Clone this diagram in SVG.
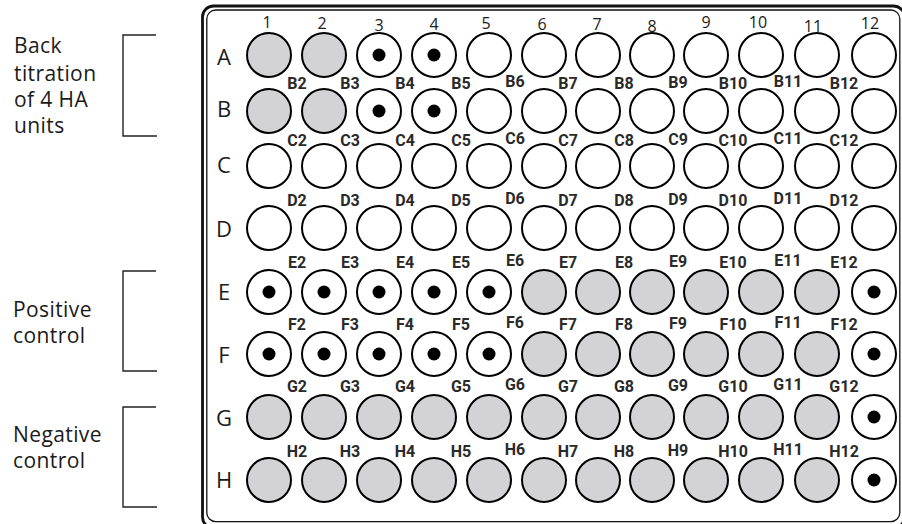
<svg xmlns="http://www.w3.org/2000/svg" width="902" height="524" viewBox="0 0 902 524">
<style>
.e{fill:#fff;stroke:#000;stroke-width:2}
.f{fill:#d3d3d5;stroke:#000;stroke-width:2}
.dot{fill:#000}
.lbl{font-family:Roboto,"Liberation Sans",sans-serif;font-weight:bold;font-size:16px;fill:#2a2a2a;text-anchor:middle}
.num{font-family:"Open Sans","Liberation Sans",sans-serif;font-size:16px;fill:#1a1a1a;text-anchor:middle}
.row{font-family:"Open Sans","Liberation Sans",sans-serif;font-size:22px;fill:#1a1a1a;text-anchor:middle}
.ann{font-family:"Open Sans","Liberation Sans",sans-serif;font-size:21px;letter-spacing:0.4px;fill:#1a1a1a}
.br{fill:none;stroke:#222;stroke-width:1.4}
</style>
<rect width="902" height="524" fill="#fff"/>
<g id="plate">
<rect x="202.5" y="6" width="702" height="522" rx="11" fill="none" stroke="#111" stroke-width="2.8"/>
<rect x="206.8" y="10" width="693" height="511.7" rx="9" fill="none" stroke="#111" stroke-width="1.3"/>
</g>
<g id="annotations">
<text class="ann" x="14" y="53">Back</text>
<text class="ann" x="14" y="81">titration</text>
<text class="ann" x="14" y="107">of 4 HA</text>
<text class="ann" x="14" y="133">units</text>
<text class="ann" x="13" y="317">Positive</text>
<text class="ann" x="13" y="343">control</text>
<text class="ann" x="13" y="442">Negative</text>
<text class="ann" x="13" y="468">control</text>
</g>
<g id="connectors">
<path class="br" d="M156,35H123V136H157"/>
<path class="br" d="M156,271H123V371H157"/>
<path class="br" d="M156,407H123V507H157"/>
</g>
<g id="column-numbers">
<text class="num" x="267" y="28">1</text>
<text class="num" x="322" y="29">2</text>
<text class="num" x="379" y="31">3</text>
<text class="num" x="434" y="30">4</text>
<text class="num" x="486" y="29">5</text>
<text class="num" x="542" y="30">6</text>
<text class="num" x="597" y="30">7</text>
<text class="num" x="652" y="32">8</text>
<text class="num" x="706" y="28">9</text>
<text class="num" x="758" y="28">10</text>
<text class="num" x="813" y="32">11</text>
<text class="num" x="870" y="29">12</text>
</g>
<g id="row-letters">
<text class="row" x="224" y="65">A</text>
<text class="row" x="224" y="117">B</text>
<text class="row" x="224" y="173">C</text>
<text class="row" x="224" y="237">D</text>
<text class="row" x="224" y="300">E</text>
<text class="row" x="224" y="363">F</text>
<text class="row" x="224" y="426">G</text>
<text class="row" x="224" y="488">H</text>
</g>
<g id="well-labels">
<text class="lbl" x="297" y="89">B2</text><text class="lbl" x="350" y="89">B3</text><text class="lbl" x="405" y="89">B4</text><text class="lbl" x="461" y="89">B5</text><text class="lbl" x="515" y="87">B6</text><text class="lbl" x="568" y="89">B7</text><text class="lbl" x="624" y="89">B8</text><text class="lbl" x="678" y="88">B9</text><text class="lbl" x="733" y="89">B10</text><text class="lbl" x="788" y="87">B11</text><text class="lbl" x="844" y="89">B12</text>
<text class="lbl" x="297" y="146">C2</text><text class="lbl" x="350" y="146">C3</text><text class="lbl" x="405" y="146">C4</text><text class="lbl" x="461" y="146">C5</text><text class="lbl" x="515" y="144">C6</text><text class="lbl" x="568" y="146">C7</text><text class="lbl" x="624" y="146">C8</text><text class="lbl" x="678" y="145">C9</text><text class="lbl" x="733" y="146">C10</text><text class="lbl" x="788" y="144">C11</text><text class="lbl" x="844" y="146">C12</text>
<text class="lbl" x="297" y="206">D2</text><text class="lbl" x="350" y="206">D3</text><text class="lbl" x="405" y="206">D4</text><text class="lbl" x="461" y="206">D5</text><text class="lbl" x="515" y="204">D6</text><text class="lbl" x="568" y="206">D7</text><text class="lbl" x="624" y="206">D8</text><text class="lbl" x="678" y="205">D9</text><text class="lbl" x="733" y="206">D10</text><text class="lbl" x="788" y="204">D11</text><text class="lbl" x="844" y="206">D12</text>
<text class="lbl" x="297" y="268">E2</text><text class="lbl" x="350" y="268">E3</text><text class="lbl" x="405" y="268">E4</text><text class="lbl" x="461" y="268">E5</text><text class="lbl" x="515" y="266">E6</text><text class="lbl" x="568" y="268">E7</text><text class="lbl" x="624" y="268">E8</text><text class="lbl" x="678" y="267">E9</text><text class="lbl" x="733" y="268">E10</text><text class="lbl" x="788" y="266">E11</text><text class="lbl" x="844" y="268">E12</text>
<text class="lbl" x="297" y="330">F2</text><text class="lbl" x="350" y="330">F3</text><text class="lbl" x="405" y="330">F4</text><text class="lbl" x="461" y="330">F5</text><text class="lbl" x="515" y="328">F6</text><text class="lbl" x="568" y="330">F7</text><text class="lbl" x="624" y="330">F8</text><text class="lbl" x="678" y="329">F9</text><text class="lbl" x="733" y="330">F10</text><text class="lbl" x="788" y="328">F11</text><text class="lbl" x="844" y="330">F12</text>
<text class="lbl" x="297" y="392">G2</text><text class="lbl" x="350" y="392">G3</text><text class="lbl" x="405" y="392">G4</text><text class="lbl" x="461" y="392">G5</text><text class="lbl" x="515" y="390">G6</text><text class="lbl" x="568" y="392">G7</text><text class="lbl" x="624" y="392">G8</text><text class="lbl" x="678" y="391">G9</text><text class="lbl" x="733" y="392">G10</text><text class="lbl" x="788" y="390">G11</text><text class="lbl" x="844" y="392">G12</text>
<text class="lbl" x="297" y="457">H2</text><text class="lbl" x="350" y="457">H3</text><text class="lbl" x="405" y="457">H4</text><text class="lbl" x="461" y="457">H5</text><text class="lbl" x="515" y="455">H6</text><text class="lbl" x="568" y="457">H7</text><text class="lbl" x="624" y="457">H8</text><text class="lbl" x="678" y="456">H9</text><text class="lbl" x="733" y="457">H10</text><text class="lbl" x="788" y="455">H11</text><text class="lbl" x="844" y="457">H12</text>
</g>
<g id="wells">
<g id="A1"><circle class="f" cx="269" cy="55" r="22"/></g>
<g id="A2"><circle class="f" cx="324" cy="55" r="22"/></g>
<g id="A3"><circle class="e" cx="379" cy="55" r="22"/><circle class="dot" cx="379" cy="55" r="6.5"/></g>
<g id="A4"><circle class="e" cx="434" cy="55" r="22"/><circle class="dot" cx="434" cy="55" r="6.5"/></g>
<g id="A5"><circle class="e" cx="489" cy="55" r="22"/></g>
<g id="A6"><circle class="e" cx="544" cy="55" r="22"/></g>
<g id="A7"><circle class="e" cx="598" cy="55" r="22"/></g>
<g id="A8"><circle class="e" cx="652" cy="55" r="22"/></g>
<g id="A9"><circle class="e" cx="706" cy="55" r="22"/></g>
<g id="A10"><circle class="e" cx="761" cy="55" r="22"/></g>
<g id="A11"><circle class="e" cx="817" cy="55" r="22"/></g>
<g id="A12"><circle class="e" cx="874" cy="55" r="22"/></g>

<g id="B1"><circle class="f" cx="269" cy="111" r="22"/></g>
<g id="B2"><circle class="f" cx="324" cy="111" r="22"/></g>
<g id="B3"><circle class="e" cx="379" cy="111" r="22"/><circle class="dot" cx="379" cy="111" r="6.5"/></g>
<g id="B4"><circle class="e" cx="434" cy="111" r="22"/><circle class="dot" cx="434" cy="111" r="6.5"/></g>
<g id="B5"><circle class="e" cx="489" cy="111" r="22"/></g>
<g id="B6"><circle class="e" cx="544" cy="111" r="22"/></g>
<g id="B7"><circle class="e" cx="598" cy="111" r="22"/></g>
<g id="B8"><circle class="e" cx="652" cy="111" r="22"/></g>
<g id="B9"><circle class="e" cx="706" cy="111" r="22"/></g>
<g id="B10"><circle class="e" cx="761" cy="111" r="22"/></g>
<g id="B11"><circle class="e" cx="817" cy="111" r="22"/></g>
<g id="B12"><circle class="e" cx="874" cy="111" r="22"/></g>

<g id="C1"><circle class="e" cx="269" cy="166" r="22"/></g>
<g id="C2"><circle class="e" cx="324" cy="166" r="22"/></g>
<g id="C3"><circle class="e" cx="379" cy="166" r="22"/></g>
<g id="C4"><circle class="e" cx="434" cy="166" r="22"/></g>
<g id="C5"><circle class="e" cx="489" cy="166" r="22"/></g>
<g id="C6"><circle class="e" cx="544" cy="166" r="22"/></g>
<g id="C7"><circle class="e" cx="598" cy="166" r="22"/></g>
<g id="C8"><circle class="e" cx="652" cy="166" r="22"/></g>
<g id="C9"><circle class="e" cx="706" cy="166" r="22"/></g>
<g id="C10"><circle class="e" cx="761" cy="166" r="22"/></g>
<g id="C11"><circle class="e" cx="817" cy="166" r="22"/></g>
<g id="C12"><circle class="e" cx="874" cy="166" r="22"/></g>

<g id="D1"><circle class="e" cx="269" cy="228" r="22"/></g>
<g id="D2"><circle class="e" cx="324" cy="228" r="22"/></g>
<g id="D3"><circle class="e" cx="379" cy="228" r="22"/></g>
<g id="D4"><circle class="e" cx="434" cy="228" r="22"/></g>
<g id="D5"><circle class="e" cx="489" cy="228" r="22"/></g>
<g id="D6"><circle class="e" cx="544" cy="228" r="22"/></g>
<g id="D7"><circle class="e" cx="598" cy="228" r="22"/></g>
<g id="D8"><circle class="e" cx="652" cy="228" r="22"/></g>
<g id="D9"><circle class="e" cx="706" cy="228" r="22"/></g>
<g id="D10"><circle class="e" cx="761" cy="228" r="22"/></g>
<g id="D11"><circle class="e" cx="817" cy="228" r="22"/></g>
<g id="D12"><circle class="e" cx="874" cy="228" r="22"/></g>

<g id="E1"><circle class="e" cx="269" cy="292" r="22"/><circle class="dot" cx="269" cy="292" r="6.5"/></g>
<g id="E2"><circle class="e" cx="324" cy="292" r="22"/><circle class="dot" cx="324" cy="292" r="6.5"/></g>
<g id="E3"><circle class="e" cx="379" cy="292" r="22"/><circle class="dot" cx="379" cy="292" r="6.5"/></g>
<g id="E4"><circle class="e" cx="434" cy="292" r="22"/><circle class="dot" cx="434" cy="292" r="6.5"/></g>
<g id="E5"><circle class="e" cx="489" cy="292" r="22"/><circle class="dot" cx="489" cy="292" r="6.5"/></g>
<g id="E6"><circle class="f" cx="544" cy="292" r="22"/></g>
<g id="E7"><circle class="f" cx="598" cy="292" r="22"/></g>
<g id="E8"><circle class="f" cx="652" cy="292" r="22"/></g>
<g id="E9"><circle class="f" cx="706" cy="292" r="22"/></g>
<g id="E10"><circle class="f" cx="761" cy="292" r="22"/></g>
<g id="E11"><circle class="f" cx="817" cy="292" r="22"/></g>
<g id="E12"><circle class="e" cx="874" cy="292" r="22"/><circle class="dot" cx="874" cy="292" r="6.5"/></g>

<g id="F1"><circle class="e" cx="269" cy="354" r="22"/><circle class="dot" cx="269" cy="354" r="6.5"/></g>
<g id="F2"><circle class="e" cx="324" cy="354" r="22"/><circle class="dot" cx="324" cy="354" r="6.5"/></g>
<g id="F3"><circle class="e" cx="379" cy="354" r="22"/><circle class="dot" cx="379" cy="354" r="6.5"/></g>
<g id="F4"><circle class="e" cx="434" cy="354" r="22"/><circle class="dot" cx="434" cy="354" r="6.5"/></g>
<g id="F5"><circle class="e" cx="489" cy="354" r="22"/><circle class="dot" cx="489" cy="354" r="6.5"/></g>
<g id="F6"><circle class="f" cx="544" cy="354" r="22"/></g>
<g id="F7"><circle class="f" cx="598" cy="354" r="22"/></g>
<g id="F8"><circle class="f" cx="652" cy="354" r="22"/></g>
<g id="F9"><circle class="f" cx="706" cy="354" r="22"/></g>
<g id="F10"><circle class="f" cx="761" cy="354" r="22"/></g>
<g id="F11"><circle class="f" cx="817" cy="354" r="22"/></g>
<g id="F12"><circle class="e" cx="874" cy="354" r="22"/><circle class="dot" cx="874" cy="354" r="6.5"/></g>

<g id="G1"><circle class="f" cx="269" cy="417" r="22"/></g>
<g id="G2"><circle class="f" cx="324" cy="417" r="22"/></g>
<g id="G3"><circle class="f" cx="379" cy="417" r="22"/></g>
<g id="G4"><circle class="f" cx="434" cy="417" r="22"/></g>
<g id="G5"><circle class="f" cx="489" cy="417" r="22"/></g>
<g id="G6"><circle class="f" cx="544" cy="417" r="22"/></g>
<g id="G7"><circle class="f" cx="598" cy="417" r="22"/></g>
<g id="G8"><circle class="f" cx="652" cy="417" r="22"/></g>
<g id="G9"><circle class="f" cx="706" cy="417" r="22"/></g>
<g id="G10"><circle class="f" cx="761" cy="417" r="22"/></g>
<g id="G11"><circle class="f" cx="817" cy="417" r="22"/></g>
<g id="G12"><circle class="e" cx="874" cy="417" r="22"/><circle class="dot" cx="874" cy="417" r="6.5"/></g>

<g id="H1"><circle class="f" cx="269" cy="480" r="22"/></g>
<g id="H2"><circle class="f" cx="324" cy="480" r="22"/></g>
<g id="H3"><circle class="f" cx="379" cy="480" r="22"/></g>
<g id="H4"><circle class="f" cx="434" cy="480" r="22"/></g>
<g id="H5"><circle class="f" cx="489" cy="480" r="22"/></g>
<g id="H6"><circle class="f" cx="544" cy="480" r="22"/></g>
<g id="H7"><circle class="f" cx="598" cy="480" r="22"/></g>
<g id="H8"><circle class="f" cx="652" cy="480" r="22"/></g>
<g id="H9"><circle class="f" cx="706" cy="480" r="22"/></g>
<g id="H10"><circle class="f" cx="761" cy="480" r="22"/></g>
<g id="H11"><circle class="f" cx="817" cy="480" r="22"/></g>
<g id="H12"><circle class="e" cx="874" cy="480" r="22"/><circle class="dot" cx="874" cy="480" r="6.5"/></g>
</g>
</svg>
